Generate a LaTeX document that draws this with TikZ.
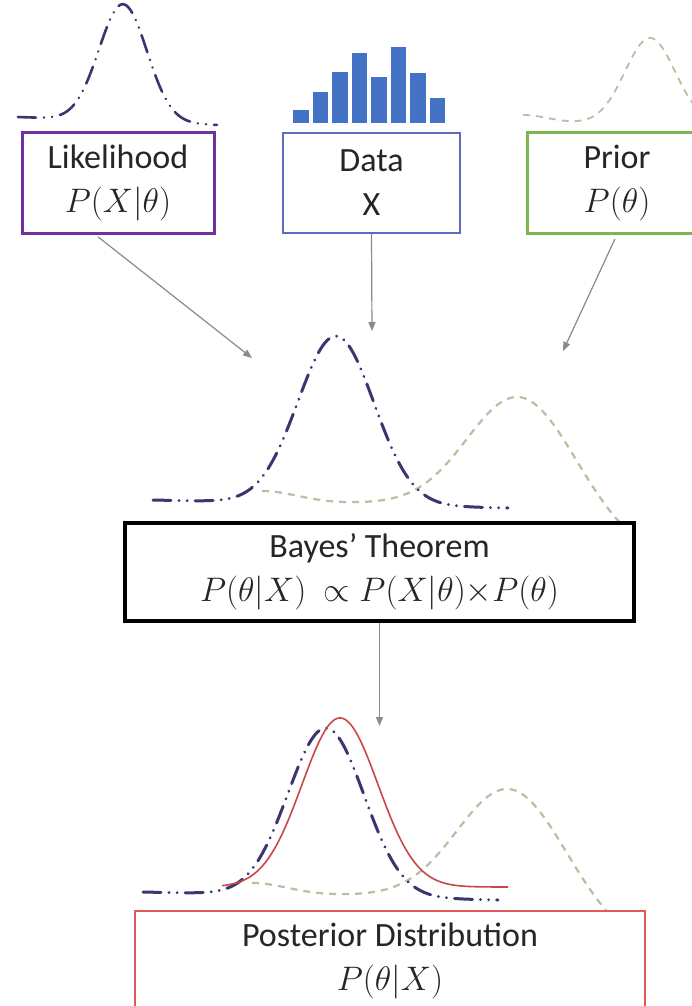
\documentclass[tikz,border=0pt]{standalone}
\usepackage{fix-cm}
\usepackage{fontspec}
\setmainfont{Carlito}
\usetikzlibrary{arrows.meta,calc}
\definecolor{likc}{HTML}{7030A0}
\definecolor{datc}{HTML}{5B6CC0}
\definecolor{pric}{HTML}{7DB54F}
\definecolor{posc}{HTML}{E05A5A}
\definecolor{curvlik}{HTML}{3B3572}
\definecolor{curvpri}{HTML}{B4C2A0}
\definecolor{curvpost}{HTML}{C84848}
\definecolor{barc}{HTML}{4472C4}
\definecolor{txt}{HTML}{262626}
\definecolor{connc}{HTML}{8A8A8A}
\newcommand{\drawmidcurves}{%
  \draw[pristyle] plot[domain=262:622, samples=140, smooth]
    (\x, {(\x<517) ? (503-106*exp(-0.5*((\x-517)/50)*((\x-517)/50))-12*exp(-0.5*((\x-262)/35)*((\x-262)/35))) : (560-163*exp(-0.5*((\x-517)/60)*((\x-517)/60)))});
  \draw[likstyle] plot[domain=153:508, samples=150, smooth]
    (\x, {500+8*(\x-153)/355-168*exp(-0.5*((\x-336)/38)*((\x-336)/38))});
}
\begin{document}
\begin{tikzpicture}[x=1pt,y=-1pt,
  box/.style={draw, rectangle, fill=white, align=center, text=txt,
    font=\fontsize{34}{44}\selectfont, inner sep=0pt},
  likstyle/.style={draw=curvlik, line width=3pt, line cap=round,
    dash pattern=on 18pt off 8pt on 0.1pt off 8pt on 0.1pt off 8pt},
  pristyle/.style={draw=curvpri, line width=2.2pt, dash pattern=on 7pt off 6pt},
  poststyle/.style={draw=curvpost, line width=1.6pt},
  conn/.style={draw=connc, line width=1.2pt, -{Triangle[length=9pt,width=7pt]}}]
\useasboundingbox (0,0) rectangle (692,1006);
\clip (0,0) rectangle (692,1006);
\fill[white] (0,0) rectangle (692,1006);

% top curves
\draw[likstyle, line width=2.6pt] plot[domain=18:217, samples=120, smooth]
  (\x, {117+8*(\x-18)/199-117*exp(-0.5*((\x-123)/24)*((\x-123)/24))});
\draw[pristyle, line width=1.8pt] plot[domain=523:700, samples=100, smooth]
  (\x, {123-85*exp(-0.5*((\x-650)/25)*((\x-650)/25))-8*exp(-0.5*((\x-523)/25)*((\x-523)/25))});

% data bars
\foreach \i/\h in {0/110,1/92,2/72,3/53,4/77,5/47,6/73,7/98}{
  \fill[barc] ({293+19.5*\i},123) rectangle ({308.5+19.5*\i},\h);
}

% middle curves
\drawmidcurves

% posterior curves
\begin{scope}[shift={(-10,392)}]
  \drawmidcurves
\end{scope}
\draw[poststyle] plot[domain=222:508, samples=150, smooth]
  (\x, {887-169*exp(-0.5*((\x-340)/38)*((\x-340)/38))});

% boxes
\node[box, draw=likc, line width=3pt, minimum width=192pt, minimum height=100pt] (lik) at (118,183) {Likelihood\\$P(X|\theta)$};
\node[box, draw=datc, line width=2.2pt, minimum width=177pt, minimum height=100pt] (data) at (371.5,183) {Data\\X};
\node[box, draw=pric, line width=3pt, minimum width=180pt, minimum height=100pt] (prior) at (617,183) {Prior\\$P(\theta)$};
\node[box, draw=black, line width=3.5pt, minimum width=509pt, minimum height=98pt] (bayes) at (379.5,572) {Bayes’ Theorem\\$P(\theta|X)\ \propto P(X|\theta){\times}P(\theta)$};
\node[box, draw=posc, line width=2pt, minimum width=510pt, minimum height=100pt] (post) at (390,961) {Posterior Distribution\\$P(\theta|X)$};

% connectors
\coordinate (likend) at (252,358);
\coordinate (dataend) at (372,331);
\coordinate (priend) at (563,351);
\coordinate (postend) at (379.5,726);
\draw[conn, shorten <=4pt] (lik.-114) -- (likend);
\draw[conn] (data.south) -- (dataend);
\draw[conn, shorten <=5pt] (prior.south) -- (priend);
\draw[conn] (bayes.south) -- (postend);
\end{tikzpicture}
\end{document}
